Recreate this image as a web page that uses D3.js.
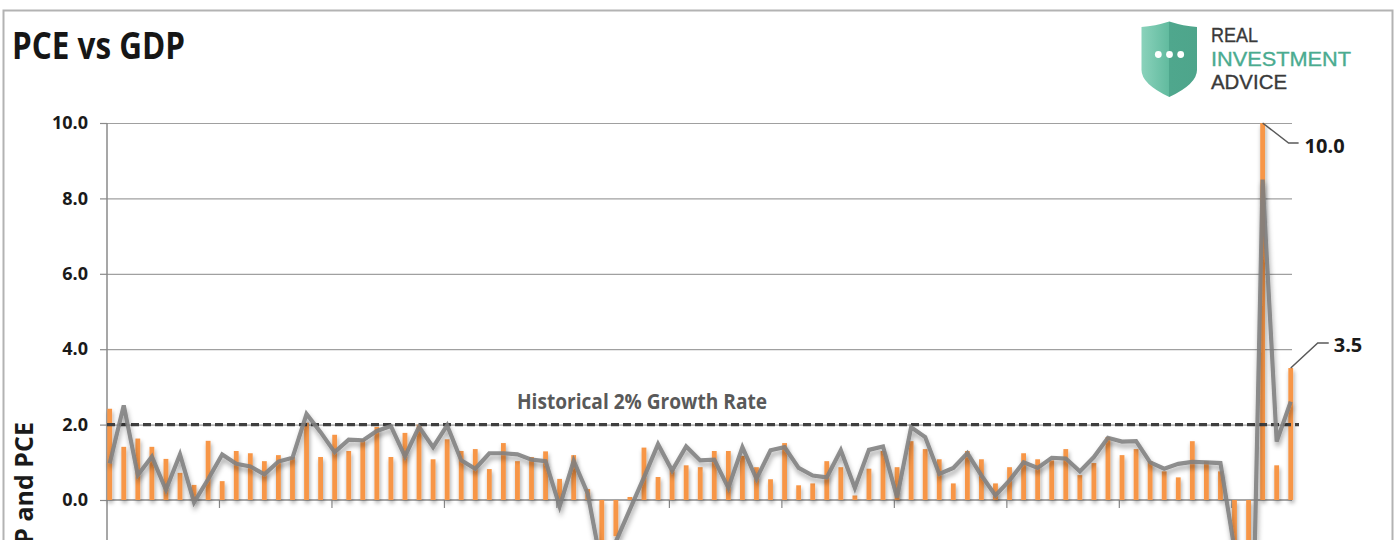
<!DOCTYPE html>
<html>
<head>
<meta charset="utf-8">
<script src="https://cdn.jsdelivr.net/npm/d3@7"></script>
<style>
  html, body { margin: 0; padding: 0; background: #ffffff; }
  svg { display: block; }
</style>
</head>
<body>
<svg id="chart" width="1397" height="540"></svg>
<script>
// ---------------- DATA ----------------
const quarters = [
  "2000 Q1","2000 Q2","2000 Q3","2000 Q4","2001 Q1","2001 Q2","2001 Q3","2001 Q4",
  "2002 Q1","2002 Q2","2002 Q3","2002 Q4","2003 Q1","2003 Q2","2003 Q3","2003 Q4",
  "2004 Q1","2004 Q2","2004 Q3","2004 Q4","2005 Q1","2005 Q2","2005 Q3","2005 Q4",
  "2006 Q1","2006 Q2","2006 Q3","2006 Q4","2007 Q1","2007 Q2","2007 Q3","2007 Q4",
  "2008 Q1","2008 Q2","2008 Q3","2008 Q4","2009 Q1","2009 Q2","2009 Q3","2009 Q4",
  "2010 Q1","2010 Q2","2010 Q3","2010 Q4","2011 Q1","2011 Q2","2011 Q3","2011 Q4",
  "2012 Q1","2012 Q2","2012 Q3","2012 Q4","2013 Q1","2013 Q2","2013 Q3","2013 Q4",
  "2014 Q1","2014 Q2","2014 Q3","2014 Q4","2015 Q1","2015 Q2","2015 Q3","2015 Q4",
  "2016 Q1","2016 Q2","2016 Q3","2016 Q4","2017 Q1","2017 Q2","2017 Q3","2017 Q4",
  "2018 Q1","2018 Q2","2018 Q3","2018 Q4","2019 Q1","2019 Q2","2019 Q3","2019 Q4",
  "2020 Q1","2020 Q2","2020 Q3","2020 Q4","2021 Q1"
];

// PCE (orange bars), quarterly % change
const pceValues = [
  2.42, 1.41, 1.63, 1.41, 1.09, 0.72, 0.40, 1.57, 0.50, 1.30,
  1.24, 1.03, 1.19, 1.14, 2.05, 1.14, 1.73, 1.30, 1.61, 1.94,
  1.14, 1.78, 2.00, 1.08, 1.61, 1.30, 1.35, 0.82, 1.51, 1.03,
  1.14, 1.29, 0.56, 1.19, 0.29, -1.40, -0.96, 0.08, 1.39, 0.61,
  0.80, 0.92, 0.87, 1.30, 1.30, 1.17, 0.87, 0.55, 1.51, 0.39,
  0.44, 1.03, 0.87, 0.12, 0.83, 1.30, 0.87, 1.56, 1.35, 1.08,
  0.44, 1.30, 1.08, 0.44, 0.87, 1.24, 1.08, 1.05, 1.35, 0.66,
  0.98, 1.67, 1.19, 1.35, 1.03, 0.76, 0.60, 1.56, 1.03, 0.76,
  -1.80, -9.00, 10.0, 0.92, 3.5
];

// GDP (gray line), quarterly % change
const gdpValues = [
  0.97, 2.51, 0.66, 1.15, 0.27, 1.21, -0.06, 0.55, 1.21, 0.96,
  0.89, 0.68, 1.02, 1.12, 2.28, 1.80, 1.27, 1.60, 1.58, 1.83,
  1.96, 1.16, 1.94, 1.40, 1.98, 1.05, 0.83, 1.24, 1.24, 1.21,
  1.07, 1.03, -0.17, 1.04, 0.17, -1.80, -1.10, -0.25, 0.60, 1.48,
  0.78, 1.42, 1.05, 1.07, 0.32, 1.40, 0.56, 1.32, 1.40, 0.85,
  0.65, 0.60, 1.32, 0.32, 1.33, 1.42, 0.07, 1.93, 1.67, 0.69,
  0.85, 1.24, 0.65, 0.12, 0.52, 1.00, 0.85, 1.12, 1.10, 0.76,
  1.14, 1.65, 1.55, 1.56, 1.00, 0.83, 0.96, 1.01, 1.00, 0.98,
  -1.30, -9.00, 8.50, 1.55, 2.61
];

const yTickValues = [0, 2, 4, 6, 8, 10];
const xTickQuarters = ["2002 Q1","2004 Q1","2006 Q1","2008 Q1","2010 Q1","2012 Q1","2014 Q1","2016 Q1","2018 Q1","2020 Q1"];
const growthRate = 2.0;
const growthLabel = "Historical 2% Growth Rate";
const chartTitle = "PCE vs GDP";
const yAxisTitle = "Real GDP and PCE";
const pointLabels = [ { q: "2020 Q3", v: 10.0, text: "10.0" }, { q: "2021 Q1", v: 3.5, text: "3.5" } ];
const logoLines = ["REAL", "INVESTMENT", "ADVICE"];

// ---------------- LAYOUT ----------------
const svg = d3.select("#chart");
const W = 1397, H = 540;
const plotLeft = 107, plotRight = 1292;
const step = 14.06;
const narrow = "'Liberation Sans Narrow', 'Open Sans', 'Liberation Sans', sans-serif";

const x = d3.scaleBand()
  .domain(quarters)
  .range([plotLeft, plotLeft + step * quarters.length])
  .paddingInner(0).paddingOuter(0);
const barW = 4.8;
const barOff = 0.3;
const cx = q => x(q) + barOff + barW / 2;

const y = d3.scaleLinear().domain([-10, 10]).range([877, 123]);

const defs = svg.append("defs");
const fb = defs.append("filter").attr("id", "barShadow")
  .attr("x", "-50%").attr("y", "-10%").attr("width", "200%").attr("height", "130%");
fb.append("feDropShadow").attr("dx", 1).attr("dy", 3).attr("stdDeviation", 2)
  .attr("flood-color", "#000").attr("flood-opacity", 0.35);
const fl = defs.append("filter").attr("id", "lineShadow")
  .attr("x", "-5%").attr("y", "-10%").attr("width", "110%").attr("height", "130%");
fl.append("feDropShadow").attr("dx", 1).attr("dy", 4).attr("stdDeviation", 2.5)
  .attr("flood-color", "#000").attr("flood-opacity", 0.38);
const grad = defs.append("linearGradient").attr("id", "shieldGrad")
  .attr("x1", "0%").attr("x2", "100%").attr("y1", "0%").attr("y2", "0%");
grad.append("stop").attr("offset", "0%").attr("stop-color", "#8ad2bb");
grad.append("stop").attr("offset", "49%").attr("stop-color", "#62bb9f");
grad.append("stop").attr("offset", "50%").attr("stop-color", "#4fa78d");
grad.append("stop").attr("offset", "100%").attr("stop-color", "#4ea58b");

// outer frame
svg.append("rect").attr("x", 3.5).attr("y", 10.5).attr("width", 1389).attr("height", 560)
  .attr("fill", "none").attr("stroke", "#b3b3b3").attr("stroke-width", 2);

// title
svg.append("text").attr("x", 12).attr("y", 59)
  .attr("font-family", narrow).attr("font-size", 38).attr("font-weight", "bold")
  .attr("fill", "#161616").attr("textLength", 173).attr("lengthAdjust", "spacingAndGlyphs")
  .text(chartTitle);

// gridlines
const grid = svg.append("g").attr("transform", `translate(${plotLeft},0)`)
  .call(d3.axisRight(y).tickValues(yTickValues.filter(v => v !== 0)).tickSize(plotRight - plotLeft).tickFormat(""));
grid.select(".domain").remove();
grid.selectAll("line").attr("stroke", "#a0a0a0").attr("stroke-width", 1.2);

// y axis
const yAxis = svg.append("g").attr("transform", `translate(${plotLeft},0)`)
  .call(d3.axisLeft(y).tickValues(yTickValues).tickFormat(d3.format(".1f")).tickSize(7).tickPadding(12));
yAxis.select(".domain").remove();
yAxis.selectAll("line").attr("stroke", "#8a8a8a").attr("stroke-width", 1.2);
yAxis.selectAll("text").attr("font-family", narrow).attr("font-size", 18).attr("font-weight", "bold")
  .attr("fill", "#1a1a1a");
svg.append("line").attr("x1", plotLeft).attr("x2", plotLeft).attr("y1", y(10)).attr("y2", H + 10)
  .attr("stroke", "#8a8a8a").attr("stroke-width", 1.5);

// y axis title (runs off the bottom edge, as in the reference)
svg.append("text").attr("transform", "translate(33,422) rotate(-90)")
  .attr("text-anchor", "end")
  .attr("font-family", narrow).attr("font-size", 25).attr("font-weight", "bold")
  .attr("fill", "#1a1a1a").text(yAxisTitle);

// x axis (at zero)
const xAxis = svg.append("g").attr("transform", `translate(0,${y(0)})`)
  .call(d3.axisBottom(x).tickValues(xTickQuarters).tickSize(8).tickFormat(""));
xAxis.select(".domain").remove();
xAxis.selectAll(".tick").attr("transform", d => `translate(${x(d)},0)`);
xAxis.selectAll("line").attr("stroke", "#8a8a8a").attr("stroke-width", 1.2);
svg.append("line").attr("x1", plotLeft).attr("x2", plotRight).attr("y1", y(0)).attr("y2", y(0))
  .attr("stroke", "#8a8a8a").attr("stroke-width", 1.5);

// bars
svg.append("g").attr("filter", "url(#barShadow)")
  .selectAll("rect").data(quarters).join("rect")
  .attr("x", q => x(q) + barOff)
  .attr("width", barW)
  .attr("y", (q, i) => y(Math.max(0, pceValues[i])))
  .attr("height", (q, i) => Math.abs(y(pceValues[i]) - y(0)))
  .attr("fill", "#f79646");

// 2% dashed line
svg.append("line").attr("x1", plotLeft).attr("x2", 1299).attr("y1", y(growthRate)).attr("y2", y(growthRate))
  .attr("stroke", "#3f3f3f").attr("stroke-width", 3.2).attr("stroke-dasharray", "8,4");
svg.append("text").attr("x", 642).attr("y", 409).attr("text-anchor", "middle")
  .attr("font-family", narrow).attr("font-size", 22).attr("font-weight", "bold")
  .attr("fill", "#595959").attr("textLength", 250).attr("lengthAdjust", "spacingAndGlyphs")
  .text(growthLabel);

// GDP line
const line = d3.line().x((d, i) => cx(quarters[i])).y(d => y(d));
svg.append("path").datum(gdpValues)
  .attr("d", line)
  .attr("fill", "none").attr("stroke", "#7f7f7f").attr("stroke-opacity", 0.88)
  .attr("stroke-width", 4.2).attr("stroke-linejoin", "miter")
  .attr("filter", "url(#lineShadow)");

// point labels with leader lines
const lab1 = pointLabels[0], lab2 = pointLabels[1];
const p1x = cx(lab1.q), p1y = y(lab1.v);
svg.append("path").attr("d", `M${p1x},${p1y} L${p1x + 26},${p1y + 20} L${p1x + 36},${p1y + 20}`)
  .attr("fill", "none").attr("stroke", "#595959").attr("stroke-width", 1.5);
svg.append("text").attr("x", p1x + 42).attr("y", p1y + 30)
  .attr("font-family", narrow).attr("font-size", 20).attr("font-weight", "bold")
  .attr("fill", "#1a1a1a").text(lab1.text);
const p2x = cx(lab2.q), p2y = y(lab2.v);
svg.append("path").attr("d", `M${p2x},${p2y} L${p2x + 27},${p2y - 25} L${p2x + 38},${p2y - 25}`)
  .attr("fill", "none").attr("stroke", "#595959").attr("stroke-width", 1.5);
svg.append("text").attr("x", p2x + 43).attr("y", p2y - 16)
  .attr("font-family", narrow).attr("font-size", 20).attr("font-weight", "bold")
  .attr("fill", "#1a1a1a").text(lab2.text);

// logo
const logo = svg.append("g");
logo.append("path")
  .attr("d", "M1141.5,27 Q1155,26 1169.3,21.5 Q1183.5,26 1197,27 L1197,70 Q1197,84 1169.3,97 Q1141.5,84 1141.5,70 Z")
  .attr("fill", "url(#shieldGrad)");
[1158.3, 1169.5, 1180.7].forEach(dx => {
  logo.append("circle").attr("cx", dx).attr("cy", 54.5).attr("r", 3.4).attr("fill", "#ffffff");
});
const logoColors = ["#3a3a3a", "#4aab90", "#3a3a3a"];
const logoBase = [42.3, 65.7, 89];
const logoLen = [47, 140, 76];
logoLines.forEach((t, i) => {
  logo.append("text").attr("x", 1211).attr("y", logoBase[i])
    .attr("font-family", "'Liberation Sans', Arial, sans-serif").attr("font-size", 20.5)
    .attr("fill", logoColors[i]).attr("stroke", logoColors[i]).attr("stroke-width", 0.35)
    .attr("textLength", logoLen[i]).attr("lengthAdjust", "spacingAndGlyphs")
    .text(t);
});
</script>
</body>
</html>
